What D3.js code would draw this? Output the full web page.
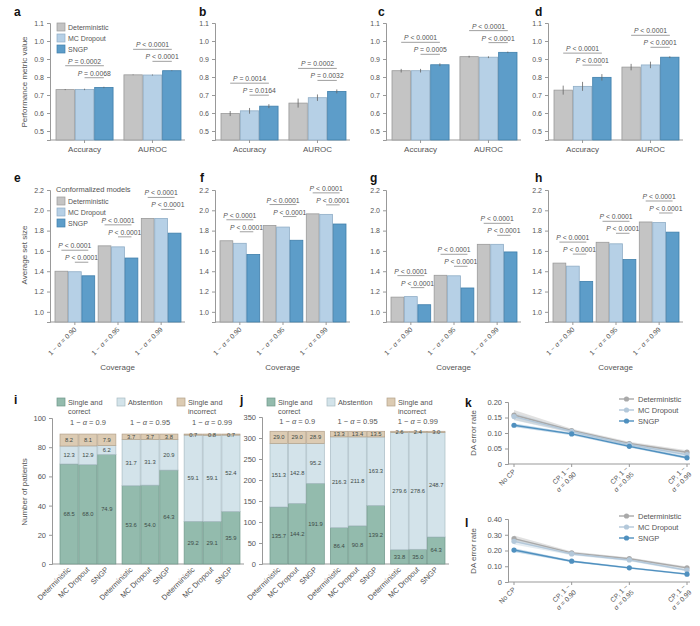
<!DOCTYPE html>
<html>
<head>
<meta charset="utf-8">
<script src="https://cdn.jsdelivr.net/npm/d3@7"></script>
<style>
  body { margin: 0; background: #fff; }
  svg { font-family: "Liberation Sans", Arial, sans-serif; }
  .tick text { fill: #555; font-size: 7px; }
  .tick line, .domain { stroke: #999; }
</style>
</head>
<body>
<svg id="chart" width="700" height="626"></svg>
<script>
// ---- data ----
var models = ["Deterministic", "MC Dropout", "SNGP"];
var metrics = ["Accuracy", "AUROC"];
var coverages = ["1 − α = 0.90", "1 − α = 0.95", "1 − α = 0.99"];
var headers = ["1 − α = 0.9", "1 − α = 0.95", "1 − α = 0.99"];
var cpSteps = ["No CP", "CP, 1 − α = 0.90", "CP, 1 − α = 0.95", "CP, 1 − α = 0.99"];

// panels a-d: performance (rows = metric, cols = model)
var perfA = [[0.730, 0.731, 0.742], [0.812, 0.811, 0.835]];
var errA  = [[0.003, 0.004, 0.004], [0.002, 0.003, 0.002]];
var pA    = [["P = 0.0002", "P = 0.0068"], ["P < 0.0001", "P < 0.0001"]];
var perfB = [[0.597, 0.612, 0.638], [0.655, 0.685, 0.720]];
var errB  = [[0.014, 0.016, 0.011], [0.025, 0.018, 0.011]];
var pB    = [["P = 0.0014", "P = 0.0164"], ["P = 0.0002", "P = 0.0032"]];
var perfC = [[0.835, 0.835, 0.868], [0.913, 0.910, 0.937]];
var errC  = [[0.010, 0.010, 0.008], [0.005, 0.005, 0.004]];
var pC    = [["P < 0.0001", "P = 0.0005"], ["P < 0.0001", "P < 0.0001"]];
var perfD = [[0.727, 0.748, 0.798], [0.855, 0.867, 0.910]];
var errD  = [[0.025, 0.025, 0.018], [0.018, 0.018, 0.005]];
var pD    = [["P < 0.0001", "P < 0.0001"], ["P < 0.0001", "P < 0.0001"]];

// panels e-h: average set size (rows = coverage, cols = model)
var setE = [[1.400, 1.395, 1.355], [1.650, 1.640, 1.530], [1.920, 1.920, 1.775]];
var setF = [[1.700, 1.675, 1.565], [1.850, 1.835, 1.705], [1.965, 1.960, 1.865]];
var setG = [[1.145, 1.150, 1.070], [1.360, 1.355, 1.235], [1.665, 1.665, 1.590]];
var setH = [[1.480, 1.450, 1.300], [1.685, 1.670, 1.515], [1.885, 1.880, 1.785]];
var pSet = ["P < 0.0001", "P < 0.0001"];

// panels i-j: stacked patients (rows = coverage, cols = model)
var correctI = [[68.5, 68.0, 74.9], [53.6, 54.0, 64.3], [29.2, 29.1, 35.9]];
var abstainI = [[12.3, 12.9, 6.2], [31.7, 31.3, 20.9], [59.1, 59.1, 52.4]];
var wrongI   = [[8.2, 8.1, 7.9], [3.7, 3.7, 3.8], [0.7, 0.8, 0.7]];
var correctJ = [[135.7, 144.2, 191.9], [86.4, 90.8, 139.2], [33.8, 35.0, 64.3]];
var abstainJ = [[151.3, 142.8, 95.2], [216.3, 211.8, 163.3], [279.6, 278.6, 248.7]];
var wrongJ   = [[29.0, 29.0, 28.9], [13.3, 13.4, 13.5], [2.6, 2.4, 3.0]];
var stackNames = ["Single and correct", "Abstention", "Single and incorrect"];

// panels k-l: DA error rate with band half-widths
var daKDet  = [0.158, 0.108, 0.066, 0.038], bandKDet  = [0.016, 0.006, 0.006, 0.006];
var daKMC   = [0.153, 0.105, 0.063, 0.030], bandKMC   = [0.012, 0.005, 0.005, 0.006];
var daKSNGP = [0.125, 0.097, 0.057, 0.020], bandKSNGP = [0.006, 0.004, 0.004, 0.004];
var daLDet  = [0.275, 0.185, 0.148, 0.090], bandLDet  = [0.020, 0.008, 0.008, 0.008];
var daLMC   = [0.258, 0.178, 0.140, 0.075], bandLMC   = [0.020, 0.008, 0.008, 0.008];
var daLSNGP = [0.203, 0.132, 0.090, 0.050], bandLSNGP = [0.012, 0.006, 0.006, 0.006];

var fills   = ["#c4c4c4", "#b6d0e6", "#5d9dc9"];
var strokes = ["#9a9a9a", "#8fadc6", "#3f7fab"];
var stackFills   = ["#93bbad", "#d3e3ea", "#dccbb3"];
var stackStrokes = ["#6f978a", "#a9bcc4", "#b3a18a"];
var lineCols = ["#a9a9a9", "#b3c8da", "#4f90bf"];

var svg = d3.select("#chart");
var txt = "#555";

function panelLabel(s, x, y) {
  svg.append("text").attr("x", x).attr("y", y).text(s)
    .attr("font-size", 12).attr("font-weight", "bold").attr("fill", "#111");
}

function yTitle(s, x, y) {
  svg.append("text").attr("transform", "translate(" + x + "," + y + ") rotate(-90)")
    .attr("text-anchor", "middle").attr("font-size", 8).attr("fill", txt).text(s);
}

function pText(g, s, x, y) {
  var t = g.append("text").attr("x", x).attr("y", y).attr("text-anchor", "middle")
    .attr("font-size", 6.8).attr("fill", txt);
  t.append("tspan").attr("font-style", "italic").text(s.slice(0, 1));
  t.append("tspan").text(s.slice(1));
}

function alphaText(sel, s) {
  var parts = s.split("α");
  sel.append("tspan").text(parts[0]);
  sel.append("tspan").attr("font-style", "italic").text("α");
  sel.append("tspan").text(parts[1]);
}

function legendBox(g, x, y, i, name) {
  g.append("rect").attr("x", x).attr("y", y - 7).attr("width", 8).attr("height", 8)
    .attr("fill", fills[i]).attr("stroke", strokes[i]).attr("stroke-width", 0.7);
  g.append("text").attr("x", x + 11).attr("y", y).attr("font-size", 7).attr("fill", txt).text(name);
}

// grouped bar panel (a-h)
function barPanel(o) {
  var g = svg.append("g");
  var y = d3.scaleLinear().domain(o.domain).range([o.bottom, o.top]);
  var x0 = d3.scaleBand().domain(o.groups).range([o.x + o.pad, o.x + o.w]).paddingInner(o.gpad);
  var x1 = d3.scaleBand().domain(models).range([0, x0.bandwidth()]).paddingInner(0.05);

  g.append("g").attr("transform", "translate(" + o.x + ",0)")
    .call(d3.axisLeft(y).tickValues(o.ticks).tickFormat(d3.format(".1f")).tickSize(3).tickPadding(3));
  g.append("line").attr("x1", o.x).attr("x2", o.x + o.w + 4)
    .attr("y1", o.bottom).attr("y2", o.bottom).attr("stroke", "#999");

  o.groups.forEach(function(grp, gi) {
    var vals = o.values[gi];
    var errs = o.errs ? o.errs[gi] : null;
    g.selectAll(null).data(vals).enter().append("rect")
      .attr("x", function(d, i) { return x0(grp) + x1(models[i]); })
      .attr("width", x1.bandwidth())
      .attr("y", function(d) { return y(d); })
      .attr("height", function(d) { return o.bottom - y(d); })
      .attr("fill", function(d, i) { return fills[i]; })
      .attr("stroke", function(d, i) { return strokes[i]; })
      .attr("stroke-width", 0.8);
    if (errs) {
      g.selectAll(null).data(vals).enter().append("line")
        .attr("x1", function(d, i) { return x0(grp) + x1(models[i]) + x1.bandwidth() / 2; })
        .attr("x2", function(d, i) { return x0(grp) + x1(models[i]) + x1.bandwidth() / 2; })
        .attr("y1", function(d, i) { return y(d - errs[i]); })
        .attr("y2", function(d, i) { return y(d + errs[i]); })
        .attr("stroke", "#666").attr("stroke-width", 0.8);
    }
    var tops = vals.map(function(d, i) { return d + (errs ? errs[i] : 0); });
    var yl2 = y(d3.max(tops)) - 9, yl1 = yl2 - 12;
    var cx = function(i) { return x0(grp) + x1(models[i]) + x1.bandwidth() / 2; };
    var pv = o.pvals[gi] || o.pvals;
    [[0, yl1, pv[0]], [1, yl2, pv[1]]].forEach(function(p) {
      g.append("line").attr("x1", cx(p[0])).attr("x2", cx(2))
        .attr("y1", p[1]).attr("y2", p[1]).attr("stroke", "#777").attr("stroke-width", 0.7);
      pText(g, p[2], (cx(p[0]) + cx(2)) / 2, p[1] - 2);
    });
    // group tick
    g.append("line").attr("x1", x0(grp) + x0.bandwidth() / 2).attr("x2", x0(grp) + x0.bandwidth() / 2)
      .attr("y1", o.bottom).attr("y2", o.bottom + 3).attr("stroke", "#999");
    if (o.rotate) {
      var t = g.append("text")
        .attr("transform", "translate(" + (x0(grp) + x0.bandwidth() / 2 + 2) + "," + (o.bottom + 8) + ") rotate(-45)")
        .attr("text-anchor", "end").attr("font-size", 6.8).attr("fill", txt);
      alphaText(t, grp);
    } else {
      g.append("text").attr("x", x0(grp) + x0.bandwidth() / 2).attr("y", o.bottom + 12)
        .attr("text-anchor", "middle").attr("font-size", 8).attr("fill", txt).text(grp);
    }
  });
  if (o.rotate) {
    g.append("text").attr("x", o.x + o.w / 2 + 2).attr("y", 370).attr("text-anchor", "middle")
      .attr("font-size", 8).attr("fill", txt).text("Coverage");
  }
  return g;
}

var cols = [50, 215, 386, 548];
var row1 = { domain: [0.45, 1.1], top: 23, bottom: 140, ticks: d3.range(0.5, 1.11, 0.1), w: 131, pad: 6, gpad: 0.16, groups: metrics };
var row2 = { domain: [0.9, 2.2], top: 190, bottom: 322, ticks: d3.range(1.0, 2.21, 0.2), w: 131, pad: 5, gpad: 0.08, groups: coverages, rotate: true };

[[perfA, errA, pA], [perfB, errB, pB], [perfC, errC, pC], [perfD, errD, pD]].forEach(function(p, k) {
  barPanel(Object.assign({}, row1, { x: cols[k], values: p[0], errs: p[1], pvals: p[2] }));
});
[setE, setF, setG, setH].forEach(function(v, k) {
  barPanel(Object.assign({}, row2, { x: cols[k], values: v, errs: null, pvals: [pSet, pSet, pSet] }));
});

panelLabel("a", 14, 16); panelLabel("b", 199, 16); panelLabel("c", 378, 16); panelLabel("d", 535, 16);
panelLabel("e", 14, 182); panelLabel("f", 200, 182); panelLabel("g", 370, 182); panelLabel("h", 535, 182);
yTitle("Performance metric value", 27, 82);
yTitle("Average set size", 27, 255);

var lgA = svg.append("g");
models.forEach(function(m, i) { legendBox(lgA, 57, 30 + i * 11, i, m); });
svg.append("text").attr("x", 56).attr("y", 192).attr("font-size", 7.5).attr("fill", txt).text("Conformalized models");
models.forEach(function(m, i) { legendBox(lgA, 57, 204 + i * 11, i, m); });

// stacked panels (i, j)
function stackPanel(o) {
  var g = svg.append("g");
  var y = d3.scaleLinear().domain(o.domain).range([564, o.top]);
  var x0 = d3.scaleBand().domain(headers).range([o.x + 8, o.x + o.w]).paddingInner(0.1);
  var x1 = d3.scaleBand().domain(models).range([0, x0.bandwidth()]).paddingInner(0.04);
  g.append("g").attr("transform", "translate(" + o.x + ",0)")
    .call(d3.axisLeft(y).tickValues(o.ticks).tickSize(3).tickPadding(3));
  g.selectAll(".tick text").style("font-size", "7.5px");
  g.append("line").attr("x1", o.x).attr("x2", o.x + o.w + 4).attr("y1", 564).attr("y2", 564).attr("stroke", "#999");

  headers.forEach(function(h, gi) {
    var t = g.append("text").attr("x", x0(h) + x0.bandwidth() / 2).attr("y", o.top + 7)
      .attr("text-anchor", "middle").attr("font-size", 7.5).attr("fill", txt);
    alphaText(t, h);
    models.forEach(function(m, mi) {
      var segs = [o.correct[gi][mi], o.abstain[gi][mi], o.wrong[gi][mi]];
      var base = 0;
      var bx = x0(h) + x1(m);
      segs.forEach(function(v, si) {
        g.append("rect").attr("x", bx).attr("width", x1.bandwidth())
          .attr("y", y(base + v)).attr("height", y(base) - y(base + v))
          .attr("fill", stackFills[si]).attr("stroke", stackStrokes[si]).attr("stroke-width", 0.7);
        g.append("text").attr("x", bx + x1.bandwidth() / 2).attr("y", y(base + v / 2) + 2)
          .attr("text-anchor", "middle").attr("font-size", 5.8).attr("fill", "#3c4a46").text(v.toFixed(1));
        base += v;
      });
      g.append("text")
        .attr("transform", "translate(" + (bx + x1.bandwidth() / 2 + 2) + ",570) rotate(-45)")
        .attr("text-anchor", "end").attr("font-size", 7.5).attr("fill", txt).text(m);
    });
  });
  // legend
  var lx = [o.x + 5, o.x + 65, o.x + 125];
  stackNames.forEach(function(n, si) {
    g.append("rect").attr("x", lx[si]).attr("y", 398).attr("width", 8).attr("height", 8)
      .attr("fill", stackFills[si]).attr("stroke", stackStrokes[si]).attr("stroke-width", 0.7);
    var words = n === "Abstention" ? [n] : ["Single and", n.replace("Single and ", "")];
    words.forEach(function(w, wi) {
      g.append("text").attr("x", lx[si] + 11).attr("y", 405 + wi * 9).attr("font-size", 7.3)
        .attr("fill", txt).text(w);
    });
  });
}

stackPanel({ x: 52, w: 188, domain: [0, 100], top: 418, ticks: d3.range(0, 101, 20),
  correct: correctI, abstain: abstainI, wrong: wrongI });
stackPanel({ x: 262, w: 183, domain: [0, 350], top: 417, ticks: d3.range(0, 351, 50),
  correct: correctJ, abstain: abstainJ, wrong: wrongJ });
panelLabel("i", 14, 404); panelLabel("j", 240, 404);
yTitle("Number of patients", 27, 492);

// line panels (k, l)
function linePanel(o) {
  var g = svg.append("g");
  var x = d3.scalePoint().domain(cpSteps).range([514, 687]);
  var y = d3.scaleLinear().domain(o.domain).range([o.bottom, o.top]);
  g.append("g").attr("transform", "translate(508,0)")
    .call(d3.axisLeft(y).tickValues(o.ticks).tickFormat(function(d) { return d === 0 ? "0" : d3.format(o.fmt)(d); })
      .tickSize(3).tickPadding(3));
  g.selectAll(".tick text").style("font-size", "7.5px");
  g.append("line").attr("x1", 508).attr("x2", 690).attr("y1", o.bottom).attr("y2", o.bottom).attr("stroke", "#999");

  cpSteps.forEach(function(s) {
    g.append("line").attr("x1", x(s)).attr("x2", x(s)).attr("y1", o.bottom).attr("y2", o.bottom + 3).attr("stroke", "#999");
    var t = g.append("text").attr("transform", "translate(" + (x(s) + 2) + "," + (o.bottom + 8) + ") rotate(-45)")
      .attr("text-anchor", "end").attr("font-size", 6.8).attr("fill", txt);
    if (s === "No CP") {
      t.text(s);
    } else {
      t.attr("dy", -4);
      t.append("tspan").attr("x", 0).text("CP, 1 −");
      var t2 = t.append("tspan").attr("x", 0).attr("dy", 8);
      t2.append("tspan").attr("font-style", "italic").text("α");
      t2.append("tspan").text(s.split("α")[1]);
    }
  });

  var idx = d3.range(cpSteps.length);
  o.series.forEach(function(sr, si) {
    var area = d3.area().x(function(i) { return x(cpSteps[i]); })
      .y0(function(i) { return y(sr[0][i] - sr[1][i]); })
      .y1(function(i) { return y(sr[0][i] + sr[1][i]); });
    g.append("path").attr("d", area(idx)).attr("fill", lineCols[si]).attr("opacity", 0.35);
  });
  o.series.forEach(function(sr, si) {
    var line = d3.line().x(function(i) { return x(cpSteps[i]); }).y(function(i) { return y(sr[0][i]); });
    g.append("path").attr("d", line(idx)).attr("fill", "none").attr("stroke", lineCols[si]).attr("stroke-width", 1.4);
    g.selectAll(null).data(idx).enter().append("circle")
      .attr("cx", function(i) { return x(cpSteps[i]); }).attr("cy", function(i) { return y(sr[0][i]); })
      .attr("r", 2.6).attr("fill", lineCols[si]);
  });
  models.forEach(function(m, i) {
    var ly = o.top - 3 + i * 11;
    g.append("line").attr("x1", 619).attr("x2", 634).attr("y1", ly).attr("y2", ly).attr("stroke", lineCols[i]).attr("stroke-width", 1.4);
    g.append("circle").attr("cx", 626.5).attr("cy", ly).attr("r", 2.6).attr("fill", lineCols[i]);
    g.append("text").attr("x", 638).attr("y", ly + 2.5).attr("font-size", 7.5).attr("fill", txt).text(m);
  });
}

linePanel({ domain: [0, 0.2], top: 402, bottom: 464, ticks: [0, 0.05, 0.10, 0.15, 0.20], fmt: ".2f",
  series: [[daKDet, bandKDet], [daKMC, bandKMC], [daKSNGP, bandKSNGP]] });
linePanel({ domain: [0, 0.4], top: 519, bottom: 582, ticks: [0, 0.10, 0.20, 0.30, 0.40], fmt: ".2f",
  series: [[daLDet, bandLDet], [daLMC, bandLMC], [daLSNGP, bandLSNGP]] });
panelLabel("k", 465, 407); panelLabel("l", 465, 527);
yTitle("DA error rate", 476, 433);
yTitle("DA error rate", 476, 551);
</script>
</body>
</html>
